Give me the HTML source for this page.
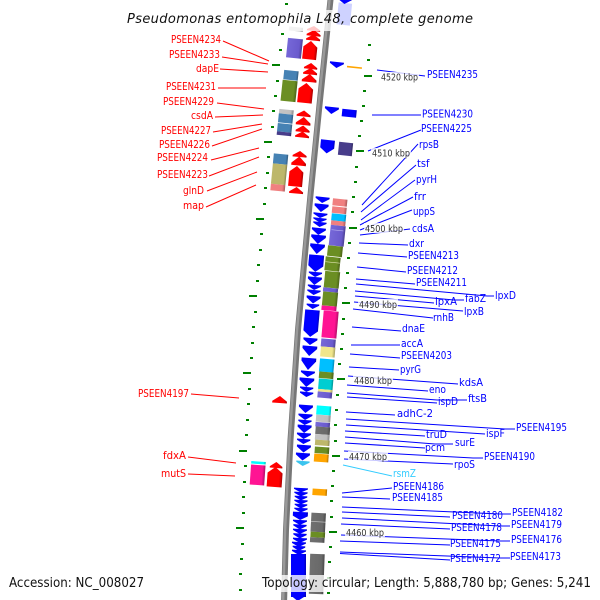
<!DOCTYPE html>
<html><head><meta charset="utf-8"><style>
html,body{margin:0;padding:0;background:#fff}
svg{display:block}
text{font-family:"DejaVu Sans","Liberation Sans",sans-serif}
.l text{font-size:11px}
.r text{fill:#f00}.b text{fill:#00f}
.k text{font-size:10px;fill:#333}
</style></head><body>
<svg width="600" height="600" viewBox="0 0 600 600" xmlns="http://www.w3.org/2000/svg">
<defs>
<linearGradient id="bl"><stop offset="0" stop-color="#00f"/><stop offset=".85" stop-color="#00f"/><stop offset="1" stop-color="#00b"/></linearGradient>
<linearGradient id="rd"><stop offset="0" stop-color="#f00"/><stop offset=".8" stop-color="#f00"/><stop offset="1" stop-color="#a00"/></linearGradient>
<linearGradient id="sb"><stop offset="0" stop-color="#7668d8"/><stop offset=".8" stop-color="#6a5acd"/><stop offset="1" stop-color="#4b3f92"/></linearGradient>
<linearGradient id="st"><stop offset="0" stop-color="#4682b4"/><stop offset=".85" stop-color="#4682b4"/><stop offset="1" stop-color="#315b7e"/></linearGradient>
<linearGradient id="ol"><stop offset="0" stop-color="#6b8e23"/><stop offset=".8" stop-color="#6b8e23"/><stop offset="1" stop-color="#4b6318"/></linearGradient>
<linearGradient id="si"><stop offset="0" stop-color="#c4c4c4"/><stop offset=".8" stop-color="#c0c0c0"/><stop offset="1" stop-color="#888"/></linearGradient>
<linearGradient id="ds"><stop offset="0" stop-color="#483d8b"/><stop offset=".85" stop-color="#483d8b"/><stop offset="1" stop-color="#322b61"/></linearGradient>
<linearGradient id="dk"><stop offset="0" stop-color="#bdb76b"/><stop offset=".85" stop-color="#bdb76b"/><stop offset="1" stop-color="#85804b"/></linearGradient>
<linearGradient id="lc"><stop offset="0" stop-color="#f08080"/><stop offset=".8" stop-color="#f08080"/><stop offset="1" stop-color="#a85a5a"/></linearGradient>
<linearGradient id="dp"><stop offset="0" stop-color="#ff1493"/><stop offset=".8" stop-color="#ff1493"/><stop offset="1" stop-color="#b20e67"/></linearGradient>
<linearGradient id="kh"><stop offset="0" stop-color="#f0e68c"/><stop offset=".8" stop-color="#f0e68c"/><stop offset="1" stop-color="#a8a162"/></linearGradient>
<linearGradient id="sk"><stop offset="0" stop-color="#00bfff"/><stop offset=".85" stop-color="#00bfff"/><stop offset="1" stop-color="#0086b2"/></linearGradient>
<linearGradient id="dt"><stop offset="0" stop-color="#00ced1"/><stop offset=".85" stop-color="#00ced1"/><stop offset="1" stop-color="#009092"/></linearGradient>
<linearGradient id="cy"><stop offset="0" stop-color="#0ff"/><stop offset=".85" stop-color="#0ff"/><stop offset="1" stop-color="#0bb"/></linearGradient>
<linearGradient id="dg"><stop offset="0" stop-color="#707070"/><stop offset=".8" stop-color="#696969"/><stop offset="1" stop-color="#4a4a4a"/></linearGradient>
<linearGradient id="or"><stop offset="0" stop-color="#ffa500"/><stop offset=".85" stop-color="#ffa500"/><stop offset="1" stop-color="#b27300"/></linearGradient>
<path id="t" fill="url(#bl)" d="M-7,0H7V.25L0,1L-7,.25Z"/>
<path id="u" fill="url(#rd)" d="M-7,0H7V-.25L0,-1L-7,-.25Z"/>
</defs>

<!-- backbone -->
<path d="M331,-5 L320,100 L310,200 L298,330 L290.5,440 L286,530 L284,605" fill="none" stroke="#777" stroke-width="6"/>
<path d="M330,-5 L319,100 L309,200 L297,330 L289.5,440 L285,530 L283,605" fill="none" stroke="#999" stroke-width="2.5"/>

<!-- tick marks -->
<g fill="#008000">
<rect x="285" y="3" width="3" height="2"/><rect x="281" y="33" width="3" height="2"/><rect x="279" y="49" width="3" height="2"/><rect x="272" y="64" width="8" height="2"/><rect x="276" y="80" width="3" height="2"/><rect x="274" y="95" width="3" height="2"/><rect x="272" y="110" width="3" height="2"/><rect x="271" y="126" width="3" height="2"/><rect x="264" y="141" width="8" height="2"/><rect x="267" y="156" width="3" height="2"/><rect x="266" y="172" width="3" height="2"/><rect x="264" y="187" width="3" height="2"/><rect x="263" y="203" width="3" height="2"/><rect x="256" y="218" width="8" height="2"/><rect x="260" y="233" width="3" height="2"/><rect x="259" y="249" width="3" height="2"/><rect x="257" y="264" width="3" height="2"/><rect x="256" y="280" width="3" height="2"/><rect x="249" y="295" width="8" height="2"/><rect x="254" y="311" width="3" height="2"/><rect x="252" y="326" width="3" height="2"/><rect x="251" y="342" width="3" height="2"/><rect x="250" y="357" width="3" height="2"/><rect x="243" y="372" width="8" height="2"/><rect x="248" y="388" width="3" height="2"/><rect x="247" y="403" width="3" height="2"/><rect x="246" y="419" width="3" height="2"/><rect x="245" y="434" width="3" height="2"/><rect x="239" y="450" width="8" height="2"/><rect x="244" y="465" width="3" height="2"/><rect x="243" y="481" width="3" height="2"/><rect x="242" y="496" width="3" height="2"/><rect x="242" y="512" width="3" height="2"/><rect x="236" y="527" width="8" height="2"/><rect x="241" y="543" width="3" height="2"/><rect x="240" y="558" width="3" height="2"/><rect x="239" y="573" width="3" height="2"/><rect x="239" y="589" width="3" height="2"/>
<rect x="368" y="44" width="3" height="2"/><rect x="367" y="59" width="3" height="2"/><rect x="364" y="75" width="8" height="2"/><rect x="363" y="90" width="3" height="2"/><rect x="362" y="105" width="3" height="2"/><rect x="360" y="120" width="3" height="2"/><rect x="358" y="135" width="3" height="2"/><rect x="356" y="150" width="8" height="2"/><rect x="355" y="166" width="3" height="2"/><rect x="354" y="181" width="3" height="2"/><rect x="352" y="196" width="3" height="2"/><rect x="351" y="211" width="3" height="2"/><rect x="349" y="227" width="8" height="2"/><rect x="348" y="242" width="3" height="2"/><rect x="347" y="257" width="3" height="2"/><rect x="346" y="272" width="3" height="2"/><rect x="344" y="287" width="3" height="2"/><rect x="342" y="302" width="8" height="2"/><rect x="342" y="318" width="3" height="2"/><rect x="341" y="333" width="3" height="2"/><rect x="340" y="348" width="3" height="2"/><rect x="338" y="363" width="3" height="2"/><rect x="337" y="378" width="8" height="2"/><rect x="336" y="394" width="3" height="2"/><rect x="335" y="409" width="3" height="2"/><rect x="334" y="424" width="3" height="2"/><rect x="334" y="440" width="3" height="2"/><rect x="332" y="455" width="8" height="2"/><rect x="332" y="470" width="3" height="2"/><rect x="331" y="485" width="3" height="2"/><rect x="330" y="500" width="3" height="2"/><rect x="330" y="516" width="3" height="2"/><rect x="329" y="531" width="8" height="2"/><rect x="329" y="546" width="3" height="2"/><rect x="328" y="561" width="3" height="2"/><rect x="327" y="577" width="3" height="2"/><rect x="327" y="592" width="3" height="2"/>
</g>

<!-- left block genes -->
<g transform="rotate(6 294 48)">
<rect x="287" y="27" width="14" height="4" fill="url(#si)"/>
<rect x="287" y="38.5" width="15" height="19.5" fill="url(#sb)"/>
</g>
<g transform="rotate(6 290 82)">
<rect x="283" y="70.5" width="14.5" height="9.5" fill="url(#st)"/>
<rect x="282.5" y="80.5" width="15" height="21" fill="url(#ol)"/>
</g>
<g transform="rotate(6 285 122)">
<rect x="278" y="109.5" width="14.5" height="4.5" fill="url(#si)"/>
<rect x="278" y="114" width="14.5" height="9" fill="url(#st)"/>
<rect x="278" y="123.7" width="14.5" height="8.3" fill="url(#st)"/>
<rect x="278" y="132" width="14.5" height="3.5" fill="url(#ds)"/>
</g>
<g transform="rotate(5.5 279 173)">
<rect x="272" y="154" width="14.5" height="10" fill="url(#st)"/>
<rect x="272" y="164" width="14.5" height="20.5" fill="url(#dk)"/>
<rect x="272" y="184.5" width="14.5" height="6.5" fill="url(#lc)"/>
</g>
<g transform="rotate(4 257.5 473)">
<rect x="250.5" y="461.5" width="14.5" height="2.5" fill="url(#cy)"/>
<rect x="250.5" y="465" width="14.5" height="20" fill="url(#dp)"/>
</g>

<!-- red arrows -->
<g>
<use href="#u" transform="translate(313.5,31) rotate(6) scale(.95,5)"/>
<use href="#u" transform="translate(313.5,36) rotate(6) scale(1,6)"/>
<use href="#u" transform="translate(313,40.5) rotate(6) scale(1,6)"/>
<path fill="url(#rd)" transform="translate(311,41) rotate(6)" d="M0,0L7,6V18.5H-7V6Z"/>
<use href="#u" transform="translate(310.5,69) rotate(6) scale(.95,6)"/>
<use href="#u" transform="translate(310,74.5) rotate(6) scale(1,6.5)"/>
<use href="#u" transform="translate(309,82) rotate(6) scale(1.05,8)"/>
<path fill="url(#rd)" transform="translate(306.5,83) rotate(6)" d="M0,0L7.3,6V20H-7.3V6Z"/>
<use href="#u" transform="translate(303.5,116.5) rotate(6) scale(1,6)"/>
<use href="#u" transform="translate(303,125) rotate(6) scale(1.05,8)"/>
<use href="#u" transform="translate(302.5,132) rotate(6) scale(1,6.5)"/>
<use href="#u" transform="translate(302,137.5) rotate(6) scale(1,6)"/>
<use href="#u" transform="translate(299.5,157) rotate(5.5) scale(1,6)"/>
<use href="#u" transform="translate(298.5,165.5) rotate(5.5) scale(1.05,9)"/>
<path fill="url(#rd)" transform="translate(297,166) rotate(5.5)" d="M0,0L7,6V20.5H-7V6Z"/>
<use href="#u" transform="translate(296,193.5) rotate(5.5) scale(1,6.5)"/>
<use href="#u" transform="translate(279.5,403) rotate(4) scale(1.05,7)"/>
<use href="#u" transform="translate(276,468) rotate(4) scale(.9,6)"/>
<path fill="url(#rd)" transform="translate(275.5,467) rotate(4)" d="M0,0L7.5,6V20H-7.5V6Z"/>
</g>

<!-- top right genes -->
<use href="#t" transform="translate(337,62) rotate(6) scale(1,6)"/>
<rect x="347" y="66.5" width="15" height="1.6" fill="#ffa500" transform="rotate(6 354 67)"/>
<use href="#t" transform="translate(332,107) rotate(6) scale(1,7)"/>
<rect x="342" y="109.5" width="14.5" height="7.5" fill="url(#bl)" transform="rotate(6 349 113)"/>
<path fill="url(#bl)" transform="translate(328,140) rotate(6)" d="M-7,0H7V8L0,13.5L-7,8Z"/>
<rect x="338.5" y="142.5" width="14" height="13" fill="url(#ds)" transform="rotate(6 345.5 149)"/>

<!-- blue arrow column -->
<use href="#t" transform="translate(322.7,197) rotate(6) scale(1,6)"/>
<use href="#t" transform="translate(321.7,204) rotate(6) scale(1,8)"/>
<use href="#t" transform="translate(320.5,213) rotate(6) scale(1,5)"/>
<use href="#t" transform="translate(320,218) rotate(6) scale(.95,4.5)"/>
<use href="#t" transform="translate(320,222) rotate(6) scale(.95,5)"/>
<use href="#t" transform="translate(319,228) rotate(6) scale(1,7)"/>
<use href="#t" transform="translate(318.7,235) rotate(6) scale(1.05,9)"/>
<use href="#t" transform="translate(317.7,244) rotate(6) scale(1.05,10)"/>
<path fill="url(#bl)" transform="translate(316.7,255) rotate(5) " d="M-7.5,0H7.5V11L0,17L-7.5,11Z"/>
<use href="#t" transform="translate(315.5,272) rotate(5) scale(.95,5)"/>
<use href="#t" transform="translate(315,277) rotate(5) scale(1,8)"/>
<use href="#t" transform="translate(314.5,285) rotate(5) scale(.95,5)"/>
<use href="#t" transform="translate(314,290) rotate(5) scale(.95,5)"/>
<use href="#t" transform="translate(313.7,296) rotate(5) scale(1,7.5)"/>
<use href="#t" transform="translate(313,304) rotate(5) scale(.9,5)"/>
<path fill="url(#bl)" transform="translate(312.5,310) rotate(5)" d="M-7.3,0H7.3V21L0,27L-7.3,21Z"/>
<use href="#t" transform="translate(310.5,338) rotate(5) scale(1,7)"/>
<use href="#t" transform="translate(310,346) rotate(5) scale(1.05,10)"/>
<use href="#t" transform="translate(309,358) rotate(5) scale(1.05,12)"/>
<use href="#t" transform="translate(308,371) rotate(5) scale(1,6)"/>
<use href="#t" transform="translate(307,378) rotate(5) scale(1.05,9)"/>
<use href="#t" transform="translate(306.7,387) rotate(5) scale(.95,5)"/>
<use href="#t" transform="translate(306.7,392) rotate(5) scale(.95,5)"/>
<use href="#t" transform="translate(306,405) rotate(4.5) scale(1,8)"/>
<use href="#t" transform="translate(305.5,414) rotate(4.5) scale(1,6)"/>
<use href="#t" transform="translate(305,420) rotate(4.5) scale(.95,5)"/>
<use href="#t" transform="translate(304.7,425) rotate(4.5) scale(1,8)"/>
<use href="#t" transform="translate(304,433) rotate(4.5) scale(1,6)"/>
<use href="#t" transform="translate(303.7,439) rotate(4) scale(.95,5)"/>
<use href="#t" transform="translate(304,445) rotate(4) scale(1,7.5)"/>
<use href="#t" transform="translate(303,453) rotate(4) scale(1,7.5)"/>
<path transform="translate(303,461) rotate(4) scale(.95,5)" fill="#3cc4ee" d="M-7,0H7V.25L0,1L-7,.25Z"/>
<use href="#t" transform="translate(301,488) rotate(3) scale(1,4.5)"/>
<use href="#t" transform="translate(301,492) rotate(3) scale(.95,4.5)"/>
<use href="#t" transform="translate(301,496) rotate(3) scale(.9,4.5)"/>
<use href="#t" transform="translate(301,500) rotate(3) scale(.95,4.5)"/>
<use href="#t" transform="translate(301,504) rotate(3) scale(.9,4.5)"/>
<use href="#t" transform="translate(301,508) rotate(3) scale(.95,4.5)"/>
<path fill="url(#bl)" transform="translate(300.5,512) rotate(3)" d="M-7.5,0H7.5V4L0,8L-7.5,4Z"/>
<use href="#t" transform="translate(300,520) rotate(3) scale(1,5)"/>
<use href="#t" transform="translate(300,524.5) rotate(3) scale(.95,5)"/>
<use href="#t" transform="translate(300,529) rotate(3) scale(1,5)"/>
<use href="#t" transform="translate(300,533.5) rotate(3) scale(.95,5)"/>
<use href="#t" transform="translate(300,538) rotate(3) scale(1,5)"/>
<use href="#t" transform="translate(299,542) rotate(3) scale(1,5)"/>
<use href="#t" transform="translate(299,546) rotate(3) scale(.9,5)"/>
<use href="#t" transform="translate(299,550) rotate(3) scale(1,5)"/>
<rect x="291" y="554" width="15" height="43" fill="url(#bl)"/>
<use href="#t" transform="translate(298,595) rotate(3) scale(.9,6)"/>

<!-- colour column -->
<g>
<rect x="332.7" y="199" width="14.5" height="7" fill="url(#lc)" transform="rotate(6 340 202)"/>
<rect x="332" y="207" width="14.5" height="6.5" fill="url(#lc)" transform="rotate(6 339 210)"/>
<rect x="331.5" y="214" width="14.5" height="7" fill="url(#sk)" transform="rotate(6 339 217)"/>
<rect x="331" y="221" width="14.5" height="4.5" fill="url(#lc)" transform="rotate(6 338 223)"/>
<rect x="329.7" y="225.5" width="15" height="20.5" fill="url(#sb)" transform="rotate(6 337 236)"/>
<rect x="327.5" y="246" width="15" height="10.5" fill="url(#ol)" transform="rotate(6 335 251)"/>
<rect x="325" y="257" width="15" height="14" fill="url(#ol)" transform="rotate(6 332.5 264)"/>
<rect x="324.5" y="271.5" width="15" height="16.5" fill="url(#ol)" transform="rotate(5.5 332 279)"/>
<rect x="323" y="288" width="15" height="4" fill="url(#sb)" transform="rotate(5.5 330.5 290)"/>
<rect x="322.5" y="292" width="15" height="14" fill="url(#ol)" transform="rotate(5.5 330 299)"/>
<rect x="321.5" y="306" width="15" height="4.5" fill="url(#dp)" transform="rotate(5 329 308)"/>
<rect x="322.5" y="311" width="15" height="27" fill="url(#dp)" transform="rotate(5 330 325)"/>
<rect x="321" y="339" width="14.5" height="8" fill="url(#sb)" transform="rotate(5 328 343)"/>
<rect x="320.5" y="347" width="14.5" height="10" fill="url(#kh)" transform="rotate(5 328 352)"/>
<rect x="319.5" y="359" width="14.5" height="13" fill="url(#sk)" transform="rotate(5 327 365)"/>
<rect x="319" y="372" width="14.5" height="6.5" fill="url(#ol)" transform="rotate(5 326 375)"/>
<rect x="318.5" y="379" width="14.5" height="10.5" fill="url(#dt)" transform="rotate(5 325.5 384)"/>
<rect x="318" y="389.5" width="14.5" height="2.5" fill="url(#kh)" transform="rotate(5 325 391)"/>
<rect x="317.5" y="392" width="14.5" height="6" fill="url(#sb)" transform="rotate(5 325 395)"/>
<rect x="316.5" y="406" width="14.5" height="9" fill="url(#cy)" transform="rotate(4.5 324 410)"/>
<rect x="316" y="415" width="14.5" height="7" fill="url(#si)" transform="rotate(4.5 323 418)"/>
<rect x="315.5" y="422.5" width="14.5" height="4.5" fill="url(#sb)" transform="rotate(4.5 323 424)"/>
<rect x="315.5" y="427" width="14.5" height="7.5" fill="url(#dg)" transform="rotate(4.5 323 430)"/>
<rect x="315" y="434.5" width="14.5" height="5.5" fill="url(#si)" transform="rotate(4.5 322 437)"/>
<rect x="315" y="440" width="14.5" height="5.5" fill="url(#dk)" transform="rotate(4.5 322 443)"/>
<rect x="314.7" y="447" width="14.5" height="6.5" fill="url(#ol)" transform="rotate(4 322 450)"/>
<rect x="314" y="454" width="14.5" height="8" fill="url(#or)" transform="rotate(4 321 458)"/>
<rect x="312.5" y="489" width="14.5" height="6.5" fill="url(#or)" transform="rotate(3.5 320 492)"/>
<rect x="311" y="513" width="14.5" height="19" fill="url(#dg)" transform="rotate(3 318 522)"/>
<rect x="310.5" y="532" width="14.5" height="5.5" fill="url(#ol)" transform="rotate(3 318 535)"/>
<rect x="310" y="537.5" width="14.5" height="5" fill="url(#dg)" transform="rotate(3 317 540)"/>
<rect x="309.5" y="554" width="14.5" height="40" fill="url(#dg)" transform="rotate(2 317 574)"/>
<rect x="311" y="521.5" width="14.5" height=".6" fill="#ccc" transform="rotate(3 318 522)"/>
<rect x="325.5" y="262" width="14.5" height=".7" fill="#dfe3b0" transform="rotate(6 332 262)"/>
<rect x="331.5" y="230" width="12" height=".6" fill="#b8b0ee" transform="rotate(6 337 230)"/>
</g>

<!-- connector lines -->
<g stroke="#f00" stroke-width="1" fill="none">
<path d="M223,41L269,61M222,57L268,64M220,69L268,72M218,88L266,88M217,103L264,109M215,117L263,115M213,132L262,124M212,146L262,129M211,160L259,148M209,176L259,157M207,191L257,172M206,207L256,185M191,394L239,398M188,457L236,463M188,474L235,476"/>
</g>
<g stroke="#00f" stroke-width="1" fill="none">
<path d="M377,70L425,76M372,115L421,115M368,151L421,130M362,205L418,144M361,212L416,165M361,220L415,180M360,225L413,197M360,230L412,210M360,235L410,229M359,243L408,245M358,253L407,257M357,267L406,272M356,279L415,284M356,284L487,296L494,296M355,291L454,300L464,300M355,296L434,303M354,302L463,311M353,309L433,318M352,327L401,331M351,345L400,345M350,354L400,358M349,367L399,370M348,376L458,384M347,385L428,391M347,393L437,400L467,400M347,397L437,403M346,412L395,415M346,419L505,429L515,429M346,425L485,434M345,431L425,436M345,437L435,444L453,444M345,443L425,448M344,451L473,458L483,458M344,459L453,464M342,493L392,488M342,497L390,499M342,507L500,514L511,514M342,512L450,517M342,518L500,526L510,526M341,524L450,529M341,535L500,541L510,541M340,541L450,545M340,552L500,558L510,558M340,553.5L450,560"/>
</g>
<path d="M343,465L392,476" stroke="#33ccff" fill="none"/>

<!-- white halos -->
<g fill="#fff" fill-opacity=".78">
<rect x="127" y="10" width="347" height="21"/>
<rect x="5" y="575" width="140" height="17"/>
<rect x="260" y="575" width="333" height="17"/>
<rect x="380" y="72" width="39" height="10"/>
<rect x="371" y="148" width="40" height="10"/>
<rect x="364" y="223" width="40" height="10"/>
<rect x="358" y="299" width="40" height="10"/>
<rect x="353" y="375" width="40" height="10"/>
<rect x="348" y="451" width="40" height="10"/>
<rect x="345" y="527" width="40" height="10"/>
</g>
<rect x="337.5" y="3" width="13.5" height="22" fill="#ced2ff" transform="rotate(6 344 14)"/>
<use href="#t" transform="translate(345,-2) rotate(6) scale(1,6)"/>

<!-- title + footer -->
<text x="127" y="23" font-size="13" font-style="italic" fill="#111" textLength="346" lengthAdjust="spacing">Pseudomonas entomophila L48, complete genome</text>
<text x="9" y="587" font-size="13" fill="#111" textLength="135" lengthAdjust="spacingAndGlyphs">Accession: NC_008027</text>
<text x="262" y="587" font-size="13" fill="#111" textLength="329" lengthAdjust="spacingAndGlyphs">Topology: circular; Length: 5,888,780 bp; Genes: 5,241</text>

<!-- kbp -->
<g class="k">
<text x="381" y="80.5" textLength="37" lengthAdjust="spacingAndGlyphs">4520 kbp</text>
<text x="372" y="156.5" textLength="38" lengthAdjust="spacingAndGlyphs">4510 kbp</text>
<text x="365" y="232" textLength="38" lengthAdjust="spacingAndGlyphs">4500 kbp</text>
<text x="359" y="308" textLength="38" lengthAdjust="spacingAndGlyphs">4490 kbp</text>
<text x="354" y="384" textLength="38" lengthAdjust="spacingAndGlyphs">4480 kbp</text>
<text x="349" y="460" textLength="38" lengthAdjust="spacingAndGlyphs">4470 kbp</text>
<text x="346" y="536" textLength="38" lengthAdjust="spacingAndGlyphs">4460 kbp</text>
</g>

<!-- left labels -->
<g class="l r">
<text x="171" y="43" textLength="50" lengthAdjust="spacingAndGlyphs">PSEEN4234</text>
<text x="169" y="58" textLength="51" lengthAdjust="spacingAndGlyphs">PSEEN4233</text>
<text x="196" y="72" textLength="23" lengthAdjust="spacingAndGlyphs">dapE</text>
<text x="166" y="90" textLength="50" lengthAdjust="spacingAndGlyphs">PSEEN4231</text>
<text x="163" y="105" textLength="51" lengthAdjust="spacingAndGlyphs">PSEEN4229</text>
<text x="191" y="119" textLength="22" lengthAdjust="spacingAndGlyphs">csdA</text>
<text x="161" y="134" textLength="50" lengthAdjust="spacingAndGlyphs">PSEEN4227</text>
<text x="159" y="148" textLength="51" lengthAdjust="spacingAndGlyphs">PSEEN4226</text>
<text x="157" y="161" textLength="51" lengthAdjust="spacingAndGlyphs">PSEEN4224</text>
<text x="157" y="178" textLength="51" lengthAdjust="spacingAndGlyphs">PSEEN4223</text>
<text x="183" y="194" textLength="21" lengthAdjust="spacingAndGlyphs">glnD</text>
<text x="183" y="209" textLength="21" lengthAdjust="spacingAndGlyphs">map</text>
<text x="138" y="397" textLength="51" lengthAdjust="spacingAndGlyphs">PSEEN4197</text>
<text x="163" y="459" textLength="23" lengthAdjust="spacingAndGlyphs">fdxA</text>
<text x="161" y="477" textLength="25" lengthAdjust="spacingAndGlyphs">mutS</text>
</g>

<!-- right labels -->
<g class="l b">
<text x="427" y="78" textLength="51" lengthAdjust="spacingAndGlyphs">PSEEN4235</text>
<text x="422" y="117.5" textLength="51" lengthAdjust="spacingAndGlyphs">PSEEN4230</text>
<text x="421" y="132" textLength="51" lengthAdjust="spacingAndGlyphs">PSEEN4225</text>
<text x="419" y="148" textLength="20" lengthAdjust="spacingAndGlyphs">rpsB</text>
<text x="417" y="167" textLength="12.5" lengthAdjust="spacingAndGlyphs">tsf</text>
<text x="416" y="183" textLength="21" lengthAdjust="spacingAndGlyphs">pyrH</text>
<text x="414" y="200" textLength="12" lengthAdjust="spacingAndGlyphs">frr</text>
<text x="413" y="215" textLength="22" lengthAdjust="spacingAndGlyphs">uppS</text>
<text x="412" y="232" textLength="22" lengthAdjust="spacingAndGlyphs">cdsA</text>
<text x="409" y="247" textLength="15" lengthAdjust="spacingAndGlyphs">dxr</text>
<text x="408" y="259" textLength="51" lengthAdjust="spacingAndGlyphs">PSEEN4213</text>
<text x="407" y="274" textLength="51" lengthAdjust="spacingAndGlyphs">PSEEN4212</text>
<text x="416" y="286" textLength="51" lengthAdjust="spacingAndGlyphs">PSEEN4211</text>
<text x="495" y="299" textLength="21" lengthAdjust="spacingAndGlyphs">lpxD</text>
<text x="465" y="302" textLength="21" lengthAdjust="spacingAndGlyphs">fabZ</text>
<text x="435" y="305" textLength="22" lengthAdjust="spacingAndGlyphs">lpxA</text>
<text x="464" y="315" textLength="20" lengthAdjust="spacingAndGlyphs">lpxB</text>
<text x="433" y="321" textLength="21" lengthAdjust="spacingAndGlyphs">rnhB</text>
<text x="402" y="332" textLength="23" lengthAdjust="spacingAndGlyphs">dnaE</text>
<text x="401" y="347" textLength="22" lengthAdjust="spacingAndGlyphs">accA</text>
<text x="401" y="359" textLength="51" lengthAdjust="spacingAndGlyphs">PSEEN4203</text>
<text x="400" y="373" textLength="21" lengthAdjust="spacingAndGlyphs">pyrG</text>
<text x="459" y="386" textLength="24" lengthAdjust="spacingAndGlyphs">kdsA</text>
<text x="429" y="393" textLength="17" lengthAdjust="spacingAndGlyphs">eno</text>
<text x="468" y="402" textLength="19" lengthAdjust="spacingAndGlyphs">ftsB</text>
<text x="438" y="405" textLength="20" lengthAdjust="spacingAndGlyphs">ispD</text>
<text x="397" y="417" textLength="36" lengthAdjust="spacingAndGlyphs">adhC-2</text>
<text x="516" y="431" textLength="51" lengthAdjust="spacingAndGlyphs">PSEEN4195</text>
<text x="486" y="437" textLength="19" lengthAdjust="spacingAndGlyphs">ispF</text>
<text x="426" y="438" textLength="21" lengthAdjust="spacingAndGlyphs">truD</text>
<text x="455" y="446" textLength="20" lengthAdjust="spacingAndGlyphs">surE</text>
<text x="425" y="451" textLength="20" lengthAdjust="spacingAndGlyphs">pcm</text>
<text x="484" y="460" textLength="51" lengthAdjust="spacingAndGlyphs">PSEEN4190</text>
<text x="454" y="468" textLength="21" lengthAdjust="spacingAndGlyphs">rpoS</text>
<text x="393" y="477" textLength="23" lengthAdjust="spacingAndGlyphs" style="fill:#33ccff">rsmZ</text>
<text x="393" y="490" textLength="51" lengthAdjust="spacingAndGlyphs">PSEEN4186</text>
<text x="392" y="501" textLength="51" lengthAdjust="spacingAndGlyphs">PSEEN4185</text>
<text x="512" y="516" textLength="51" lengthAdjust="spacingAndGlyphs">PSEEN4182</text>
<text x="452" y="519" textLength="51" lengthAdjust="spacingAndGlyphs">PSEEN4180</text>
<text x="511" y="528" textLength="51" lengthAdjust="spacingAndGlyphs">PSEEN4179</text>
<text x="451" y="531" textLength="51" lengthAdjust="spacingAndGlyphs">PSEEN4178</text>
<text x="511" y="543" textLength="51" lengthAdjust="spacingAndGlyphs">PSEEN4176</text>
<text x="450" y="547" textLength="51" lengthAdjust="spacingAndGlyphs">PSEEN4175</text>
<text x="510" y="560" textLength="51" lengthAdjust="spacingAndGlyphs">PSEEN4173</text>
<text x="450" y="562" textLength="51" lengthAdjust="spacingAndGlyphs">PSEEN4172</text>
</g>
</svg>
</body></html>
